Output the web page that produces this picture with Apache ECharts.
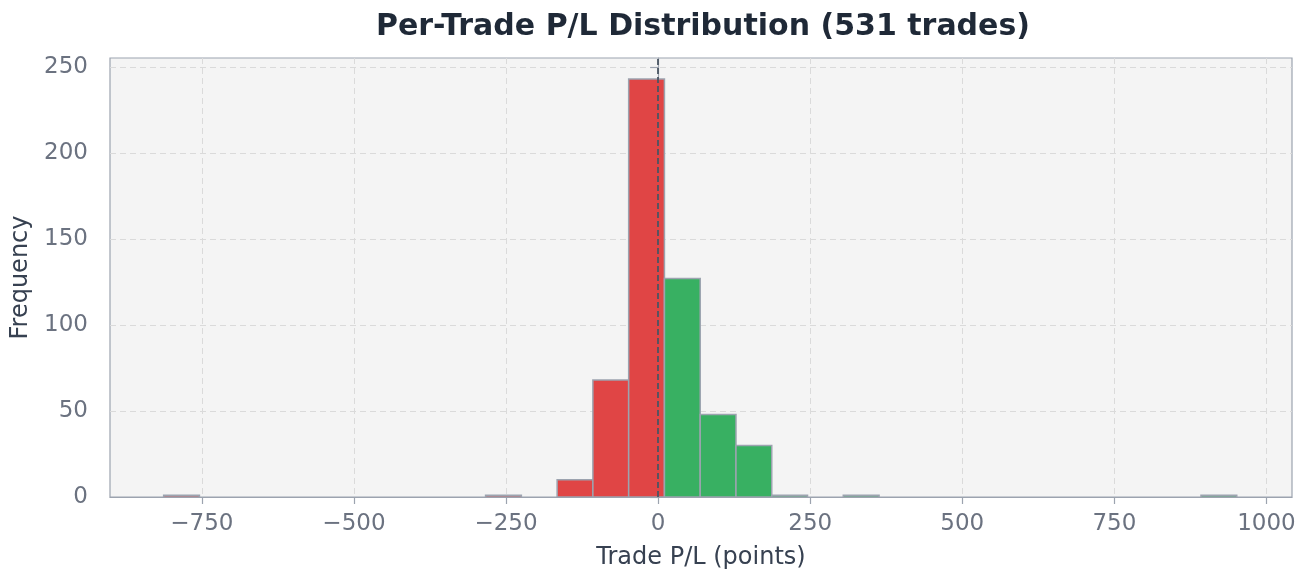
<!DOCTYPE html>
<html>
<head>
<meta charset="utf-8">
<script src="https://cdn.jsdelivr.net/npm/echarts@6/dist/echarts.min.js"></script>
<style>
html,body{margin:0;padding:0;background:#ffffff;}
#chart{width:1307px;height:571px;}
</style>
</head>
<body>
<div id="chart"></div>
<script>
// Histogram bins (left edges) and their right edges
const binStarts = [-812.8, -754.0, -695.2, -636.4, -577.6, -518.8, -460.0, -401.2, -342.4, -283.6,
                   -224.8, -166.0, -107.2, -48.4, 10.4, 69.2, 128.0, 186.8, 245.6, 304.4,
                   363.2, 422.0, 480.8, 539.6, 598.4, 657.2, 716.0, 774.8, 833.6, 892.4];
const binEnds = [-754.0, -695.2, -636.4, -577.6, -518.8, -460.0, -401.2, -342.4, -283.6, -224.8,
                 -166.0, -107.2, -48.4, 10.4, 69.2, 128.0, 186.8, 245.6, 304.4, 363.2,
                 422.0, 480.8, 539.6, 598.4, 657.2, 716.0, 774.8, 833.6, 892.4, 951.2];
const counts = [1, 0, 0, 0, 0, 0, 0, 0, 0, 1,
                0, 10, 68, 243, 127, 48, 30, 1, 0, 1,
                0, 0, 0, 0, 0, 0, 0, 0, 0, 1];
const xTicks = [-750, -500, -250, 0, 250, 500, 750, 1000];
const yTicks = [0, 50, 100, 150, 200, 250];
const titleText = 'Per-Trade P/L Distribution (531 trades)';

const RED = '#e04545', GREEN = '#38b062', EDGE = '#9ca3af';
const FONT = 'DejaVu Sans';

const data = binStarts.map((s, i) => [s, binEnds[i], counts[i]]);

const chart = echarts.init(document.getElementById('chart'), null, {renderer: 'canvas'});
const fmt = v => String(v).replace('-', '\u2212');

chart.setOption({
  animation: false,
  backgroundColor: '#ffffff',
  title: {
    text: titleText,
    left: 698, top: 7, textAlign: 'center',
    textStyle: {fontFamily: FONT, fontWeight: 'bold', fontSize: 30, color: '#1f2937'}
  },
  grid: {
    left: 110, right: 15, top: 58, bottom: 74,
    outerBoundsMode: 'none', containLabel: false,
    show: true, backgroundColor: '#f4f4f4', borderColor: EDGE, borderWidth: 1.2
  },
  xAxis: {
    type: 'value', min: -901, max: 1042,
    name: 'Trade P/L (points)', nameLocation: 'middle', nameGap: 49,
    nameTextStyle: {fontFamily: FONT, fontSize: 24, color: '#374151'},
    axisLine: {show: true, onZero: false, lineStyle: {color: EDGE, width: 1.2}},
    axisTick: {show: true, length: 7, customValues: xTicks, lineStyle: {color: EDGE, width: 1.2}},
    axisLabel: {customValues: xTicks, formatter: fmt, fontFamily: FONT, fontSize: 23, color: '#6b7280', margin: 16},
    splitLine: {show: true, customValues: xTicks, lineStyle: {color: '#dadada', type: [6, 4], width: 1}}
  },
  yAxis: {
    type: 'value', min: 0, max: 255.15,
    name: 'Frequency', nameLocation: 'middle', nameGap: 69,
    nameTextStyle: {fontFamily: FONT, fontSize: 24, color: '#374151'},
    axisLine: {show: true, lineStyle: {color: EDGE, width: 1.2}},
    axisTick: {show: true, length: 8, customValues: yTicks, lineStyle: {color: EDGE, width: 1.2}},
    axisLabel: {customValues: yTicks, fontFamily: FONT, fontSize: 23, color: '#6b7280', margin: 22},
    splitLine: {show: true, customValues: yTicks, lineStyle: {color: '#dadada', type: [6, 4], width: 1}}
  },
  series: [{
    type: 'custom',
    data: data,
    encode: {x: [0, 1], y: 2},
    renderItem: function (params, api) {
      const s = api.value(0), e = api.value(1), c = api.value(2);
      if (!c) return null;
      const p0 = api.coord([s, c]);
      const p1 = api.coord([e, 0]);
      const mid = (s + e) / 2;
      return {
        type: 'rect',
        shape: {x: p0[0], y: p0[1], width: p1[0] - p0[0], height: p1[1] - p0[1]},
        style: {fill: mid < 0 ? RED : GREEN, stroke: EDGE, lineWidth: 1.5}
      };
    },
    markLine: {
      silent: true, symbol: 'none', z: 10,
      label: {show: false},
      lineStyle: {color: '#4b5563', type: [6, 3], width: 1.8},
      data: [{xAxis: 0}]
    }
  }]
});
</script>
</body>
</html>
